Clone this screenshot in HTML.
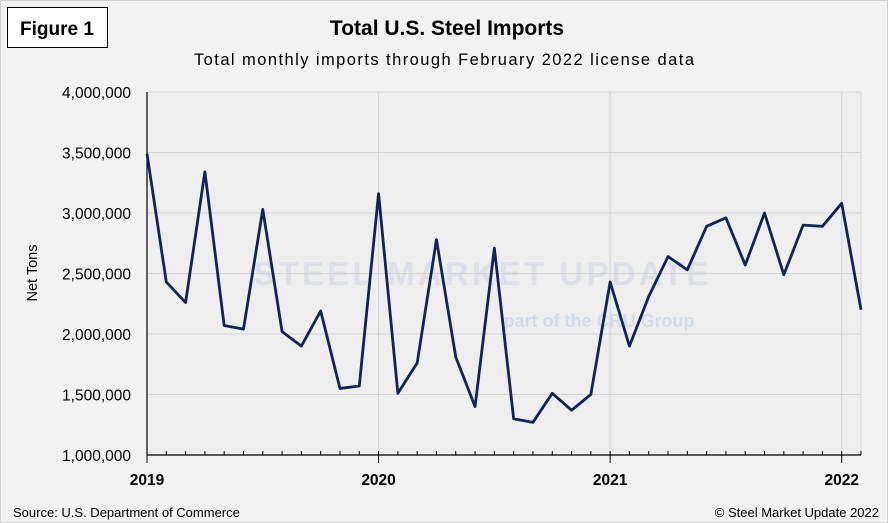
<!DOCTYPE html>
<html><head><meta charset="utf-8"><style>
body{margin:0;background:#f2f2f2;font-family:"Liberation Sans",sans-serif}
#wrap{position:relative;width:888px;height:523px;overflow:hidden;background:#f2f2f2;box-sizing:border-box;border:1px solid #d0d0d0}
</style></head><body>
<div id="wrap">
<svg id="chart" width="888" height="523" style="position:absolute;left:0;top:0"></svg>
</div>
<script>
const categories=["2019-01","2019-02","2019-03","2019-04","2019-05","2019-06","2019-07","2019-08","2019-09","2019-10","2019-11","2019-12","2020-01","2020-02","2020-03","2020-04","2020-05","2020-06","2020-07","2020-08","2020-09","2020-10","2020-11","2020-12","2021-01","2021-02","2021-03","2021-04","2021-05","2021-06","2021-07","2021-08","2021-09","2021-10","2021-11","2021-12","2022-01","2022-02"];
const imports=[3490000,2430000,2260000,3340000,2070000,2040000,3030000,2020000,1900000,2190000,1550000,1570000,3160000,1510000,1760000,2780000,1810000,1400000,2710000,1300000,1270000,1510000,1370000,1500000,2430000,1900000,2310000,2640000,2530000,2890000,2960000,2570000,3000000,2490000,2900000,2890000,3080000,2200000];
const yTicks=[1000000,1500000,2000000,2500000,3000000,3500000,4000000];
const NS="http://www.w3.org/2000/svg";
const svg=document.getElementById('chart');
const X0=146,X1=860,Y0=454,Y1=91;
const step=(X1-X0)/(categories.length-1);
function xs(i){return X0+i*step;}
function ys(v){return Y0-(v-1000000)/3000000*(Y0-Y1);}
function el(t,a,txt){const e=document.createElementNS(NS,t);for(const k in a)e.setAttribute(k,a[k]);if(txt!==undefined)e.textContent=txt;svg.appendChild(e);return e;}
const plot=el('rect',{x:X0,y:Y1,width:X1-X0,height:Y0-Y1,fill:'#eeeeee'});


const wm=el('text',{x:480,y:284,'text-anchor':'middle','font-size':33,'font-weight':'bold',fill:'#dde0e6','textLength':455},'STEEL MARKET UPDATE');


const wm2=el('text',{x:598,y:326,'text-anchor':'middle','font-size':18,'font-weight':'bold',fill:'#d3dce8'},'part of the CRU Group');


yTicks.forEach(v=>{
  const y=ys(v);
  const g=el('line',{x1:X0,x2:X1,y1:y,y2:y,stroke:'#d4d4d4','stroke-width':1});
  
  
  const t=el('text',{x:130,y:y+6,'text-anchor':'end','font-size':15.5,fill:'#000'},v.toLocaleString('en-US'));
  
  
});
categories.forEach((c,i)=>{
  const x=xs(i);
  const isYear=c.endsWith('-01');
  if(isYear||i===categories.length-1){
    const g=el('line',{x1:x,x2:x,y1:Y1,y2:Y0,stroke:'#d4d4d4','stroke-width':1});
    
    
  }
  const tk=el('line',{x1:x,x2:x,y1:isYear?Y0+8:Y0-4,y2:isYear?Y0-4:Y0,stroke:'#000','stroke-width':1});
  
  
  if(isYear){
    const t=el('text',{x:x,y:484,'text-anchor':'middle','font-size':15.5,'font-weight':'bold'},c.slice(0,4));
    
    
  }
});
const ax=el('line',{x1:X0,x2:X0,y1:Y1,y2:Y0,stroke:'#000','stroke-width':1.2});


const bx=el('line',{x1:X0,x2:X1,y1:Y0,y2:Y0,stroke:'#000','stroke-width':1.2});


const line=el('polyline',{points:imports.map((v,i)=>xs(i)+','+ys(v)).join(' '),fill:'none',stroke:'#0f2557','stroke-width':2.8,'stroke-linejoin':'round'});


const yt=el('text',{x:0,y:0,transform:'translate(36,272) rotate(-90)','text-anchor':'middle','font-size':14.5},'Net Tons');


const fb=el('rect',{x:6.5,y:6.5,width:100,height:40,fill:'#fff',stroke:'#000','stroke-width':1});


const ft=el('text',{x:56,y:34,'text-anchor':'middle','font-size':19,'font-weight':'bold'},'Figure 1');


const ti=el('text',{x:446,y:34,'text-anchor':'middle','font-size':21,'font-weight':'bold'},'Total U.S. Steel Imports');


const st=el('text',{x:443,y:64,'text-anchor':'middle','font-size':16.5,'textLength':500},'Total monthly imports through February 2022 license data');


const src=el('text',{x:12,y:516,'font-size':13},'Source: U.S. Department of Commerce');


const cp=el('text',{x:878,y:516,'text-anchor':'end','font-size':13},'© Steel Market Update 2022');


</script>
</body></html>
